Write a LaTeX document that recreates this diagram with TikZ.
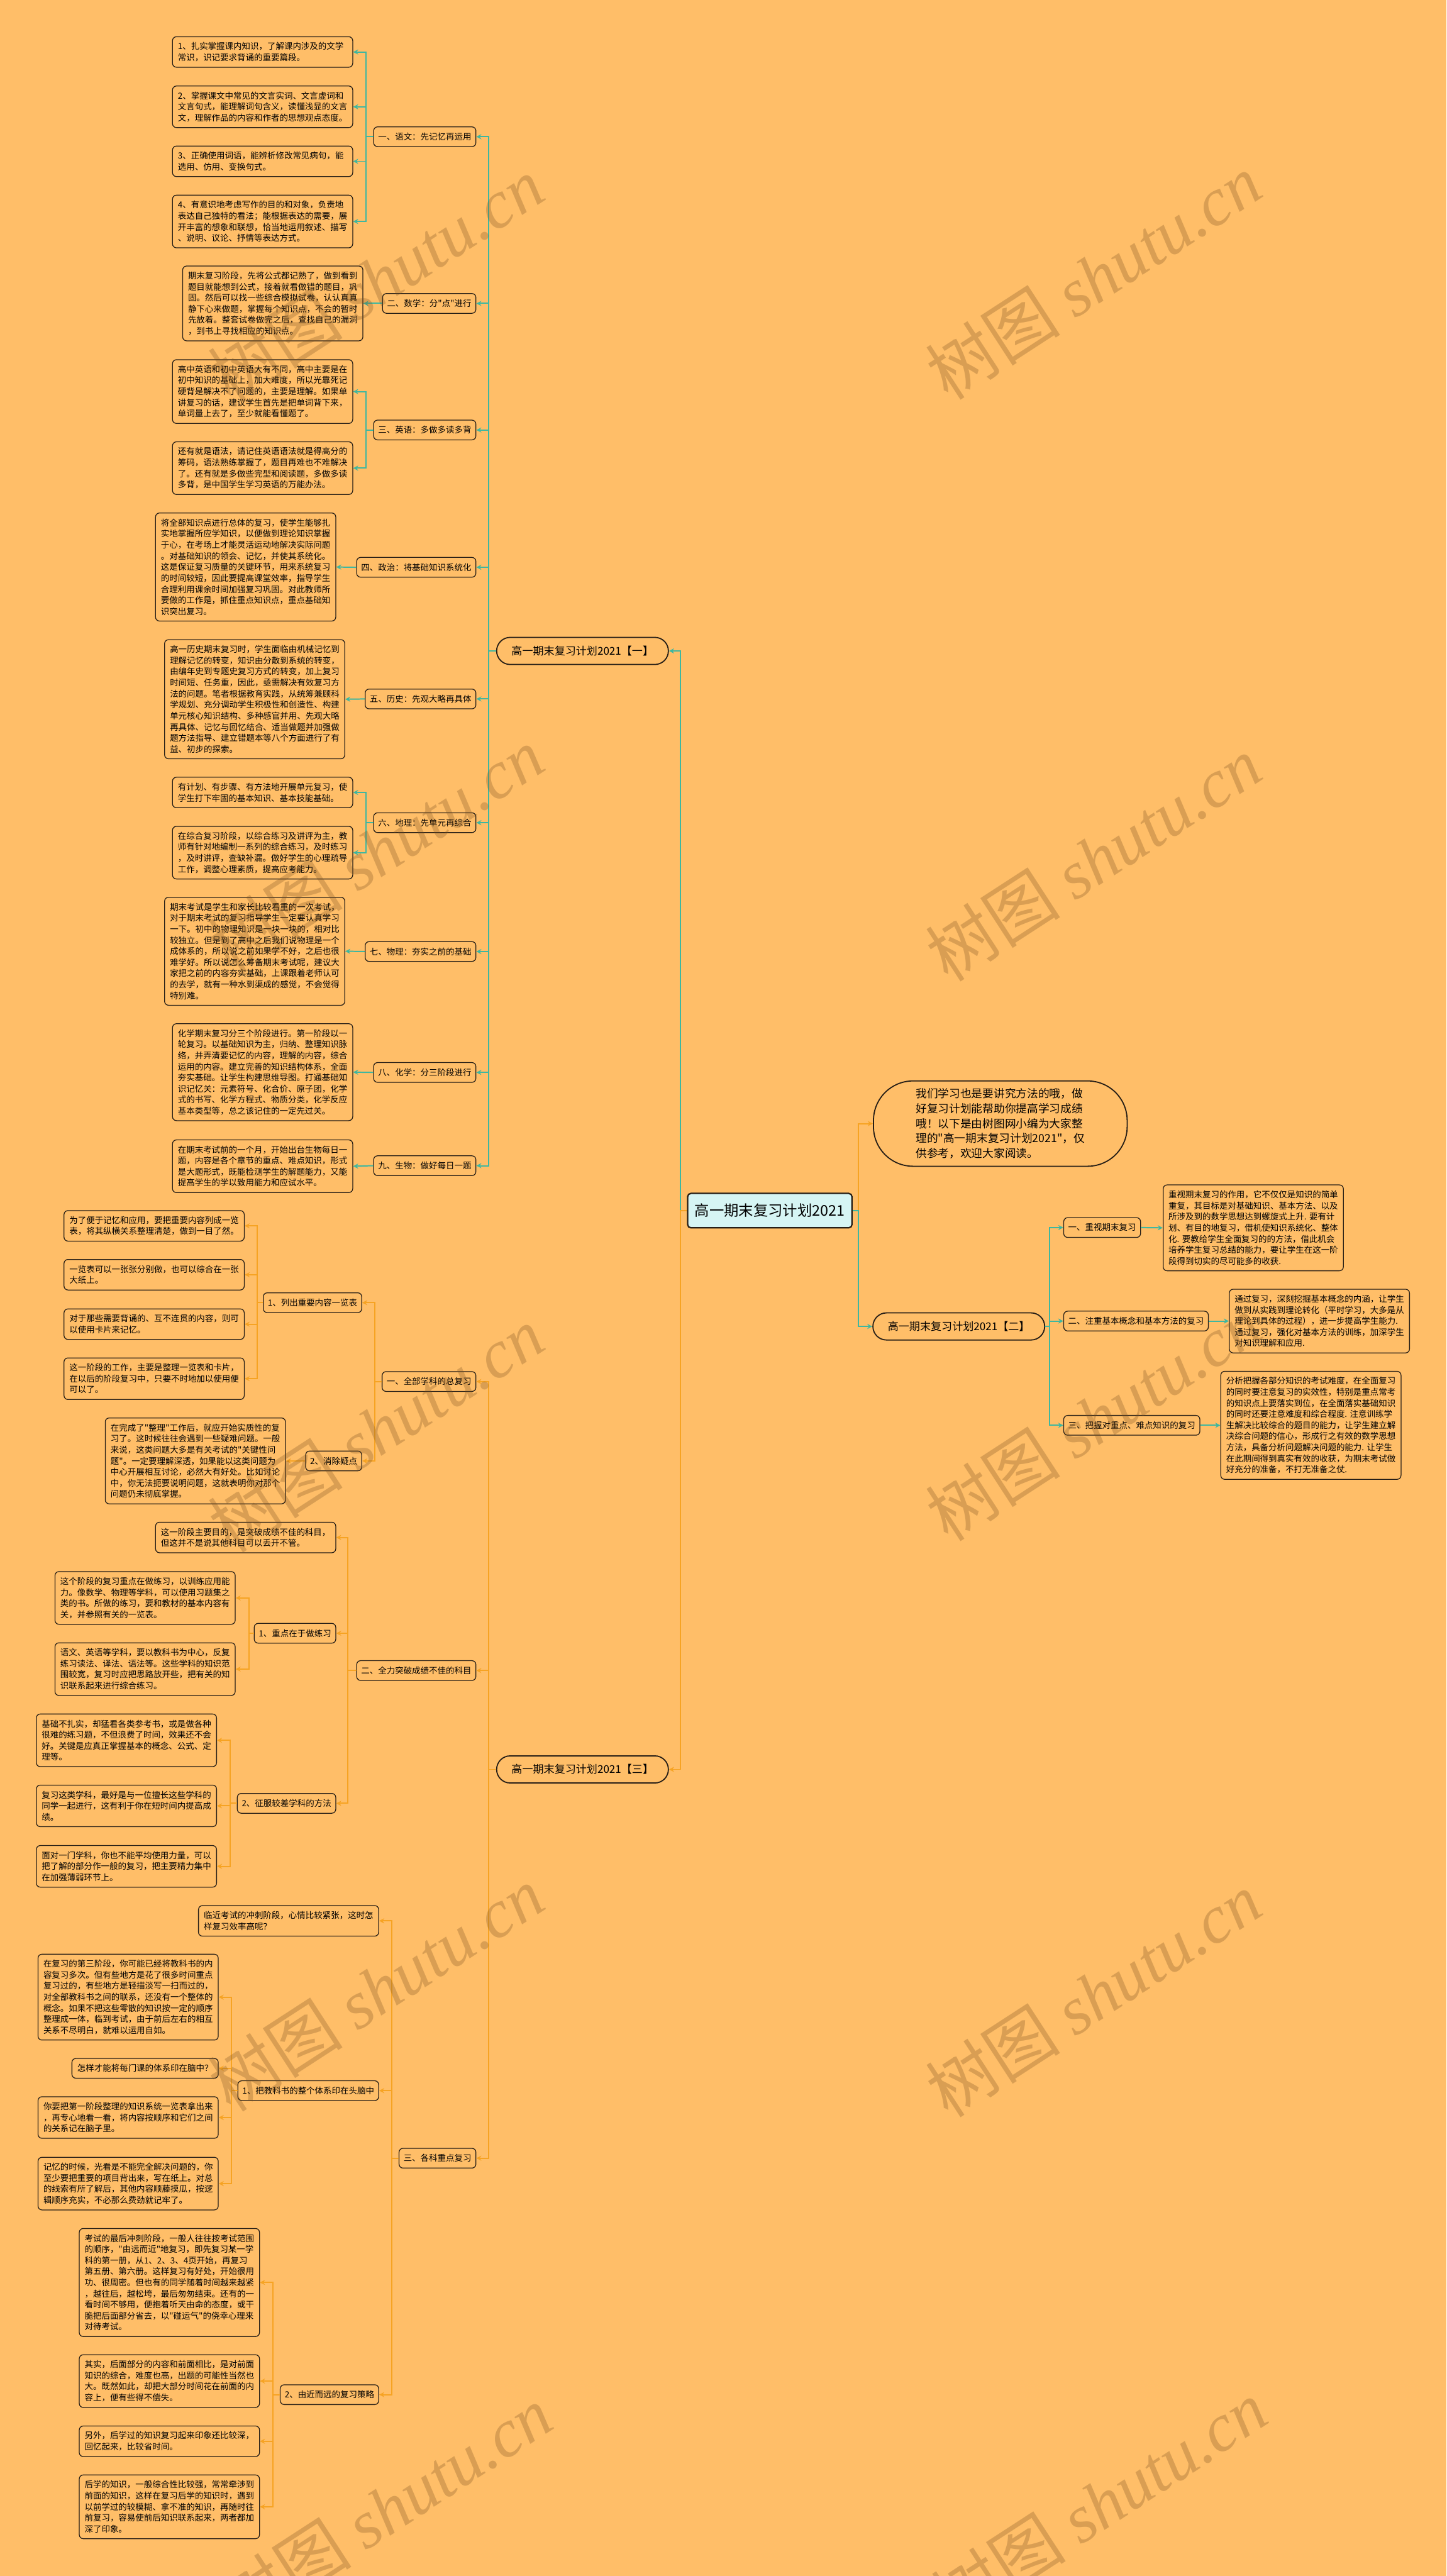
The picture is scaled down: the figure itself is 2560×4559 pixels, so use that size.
\documentclass[tikz,border=0pt]{standalone}
\usepackage{fontspec}
\setmainfont{Noto Sans CJK SC}[Ligatures=TeXOff]
\newfontfamily\wmfont{Liberation Serif}
\usetikzlibrary{arrows.meta}
\definecolor{bg}{RGB}{255,190,104}
\definecolor{bd}{RGB}{38,30,22}
\definecolor{tealc}{RGB}{62,183,160}
\definecolor{orgc}{RGB}{246,163,35}
\definecolor{cyanf}{RGB}{214,245,244}
\definecolor{wmc}{RGB}{120,78,30}
\begin{document}
\begin{tikzpicture}[x=1pt,y=-1pt,
 leafbase/.style={draw=bd, line width=1.4pt, fill=bg, rounded corners=7pt, align=left, font=\fontsize{15}{19.6}\selectfont, inner xsep=9.5pt, inner ysep=3pt},
 leaf/.style={leafbase, text width=300pt},
 lab/.style={draw=bd, line width=1.4pt, fill=bg, rounded corners=7pt, font=\fontsize{15}{18}\selectfont, inner xsep=8pt, inner ysep=3pt, minimum height=35pt},
 ln2/.style={minimum height=54pt}, ln3/.style={minimum height=73.6pt}, ln4/.style={minimum height=93.2pt},
 ln5/.style={minimum height=112.8pt}, ln6/.style={minimum height=132.4pt}, ln7/.style={minimum height=152pt},
 ln8/.style={minimum height=171.6pt}, ln9/.style={minimum height=191.2pt}, ln10/.style={minimum height=210.8pt},
 brbox/.style={draw=bd, line width=2pt, fill=bg, rounded corners=24pt, font=\fontsize{19}{22}\selectfont, minimum width=304pt, minimum height=48pt, inner sep=2pt},
 ctrbox/.style={draw=bd, line width=2.5pt, fill=cyanf, rounded corners=6pt, font=\fontsize{26}{30}\selectfont, minimum width=291pt, minimum height=61pt, inner sep=2pt},
 introbox/.style={draw=bd, line width=2pt, fill=bg, rounded corners=70pt, align=left, font=\fontsize{19.7}{26.5}\selectfont, minimum width=449pt, minimum height=151pt, inner sep=2pt},
 conT/.style={draw=tealc, line width=2.2pt, -{Stealth[length=9pt,width=9pt]}},
 conO/.style={draw=orgc, line width=2.2pt, -{Stealth[length=9pt,width=9pt]}},
 wm/.style={rotate=33, font=\fontsize{120}{120}\selectfont, text=wmc, text opacity=0.28, inner sep=0pt}]
\fill[bg] (0,0) rectangle (2560,4559);
\useasboundingbox (0,0) rectangle (2560,4559);
% vertical connector x positions
\coordinate (vC) at (1204,0);
\coordinate (vR) at (1519,0);
\coordinate (s1) at (865,0);
\coordinate (v1) at (648,0);
\coordinate (s2) at (1858,0);
\coordinate (v31) at (663,0);
\coordinate (v311) at (455,0);
\coordinate (v32) at (616,0);
\coordinate (v321) at (441,0);
\coordinate (v322) at (407,0);
\coordinate (v33) at (693,0);
\coordinate (v331) at (410,0);
\coordinate (v332) at (483,0);
% ---------------- center ----------------
\node[ctrbox] (C) at (1362.5,2142.5) {高一期末复习计划2021};
\node[introbox] (I) at (1770.5,1988.5) {我们学习也是要讲究方法的哦，做\\好复习计划能帮助你提高学习成绩\\哦！以下是由树图网小编为大家整\\理的"高一期末复习计划2021"，仅\\供参考，欢迎大家阅读。};
% ---------------- branch 1 ----------------
\node[brbox,anchor=east] (B1) at (1184,1152) {高一期末复习计划2021【一】};
\node[lab,anchor=east] (A1) at (843,242) {一、语文：先记忆再运用};
\node[leaf,ln2,anchor=east] (a11) at (625,92) {1、扎实掌握课内知识，了解课内涉及的文学\\常识，识记要求背诵的重要篇段。};
\node[leaf,ln3,anchor=east] (a12) at (625,189) {2、掌握课文中常见的文言实词、文言虚词和\\文言句式，能理解词句含义，读懂浅显的文言\\文，理解作品的内容和作者的思想观点态度。};
\node[leaf,ln2,anchor=east] (a13) at (625,285.5) {3、正确使用词语，能辨析修改常见病句，能\\选用、仿用、变换句式。};
\node[leaf,ln4,anchor=east] (a14) at (625,392) {4、有意识地考虑写作的目的和对象，负责地\\表达自己独特的看法；能根据表达的需要，展\\开丰富的想象和联想，恰当地运用叙述、描写\\、说明、议论、抒情等表达方式。};
\node[lab,anchor=east] (A2) at (843,537) {二、数学：分"点"进行};
\node[leaf,ln6,anchor=east] (a2) at (643,537) {期末复习阶段，先将公式都记熟了，做到看到\\题目就能想到公式，接着就看做错的题目，巩\\固。然后可以找一些综合模拟试卷，认认真真\\静下心来做题，掌握每个知识点，不会的暂时\\先放着。整套试卷做完之后，查找自己的漏洞\\，到书上寻找相应的知识点。};
\node[lab,anchor=east] (A3) at (843,761) {三、英语：多做多读多背};
\node[leaf,ln5,anchor=east] (a31) at (625,693) {高中英语和初中英语大有不同，高中主要是在\\初中知识的基础上，加大难度，所以光靠死记\\硬背是解决不了问题的，主要是理解。如果单\\讲复习的话，建议学生首先是把单词背下来，\\单词量上去了，至少就能看懂题了。};
\node[leaf,ln4,anchor=east] (a32) at (625,828.5) {还有就是语法，请记住英语语法就是得高分的\\筹码，语法熟练掌握了，题目再难也不难解决\\了。还有就是多做些完型和阅读题，多做多读\\多背，是中国学生学习英语的万能办法。};
\node[lab,anchor=east] (A4) at (843,1004) {四、政治：将基础知识系统化};
\node[leaf,ln9,anchor=east] (a4) at (595,1003.5) {将全部知识点进行总体的复习，使学生能够扎\\实地掌握所应学知识，以便做到理论知识掌握\\于心，在考场上才能灵活运动地解决实际问题\\。对基础知识的领会、记忆，并使其系统化。\\这是保证复习质量的关键环节，用来系统复习\\的时间较短，因此要提高课堂效率，指导学生\\合理利用课余时间加强复习巩固。对此教师所\\要做的工作是，抓住重点知识点，重点基础知\\识突出复习。};
\node[lab,anchor=east] (A5) at (843,1237) {五、历史：先观大略再具体};
\node[leaf,ln10,anchor=east] (a5) at (611,1237.5) {高一历史期末复习时，学生面临由机械记忆到\\理解记忆的转变，知识由分散到系统的转变，\\由编年史到专题史复习方式的转变，加上复习\\时间短、任务重，因此，亟需解决有效复习方\\法的问题。笔者根据教育实践，从统筹兼顾科\\学规划、充分调动学生积极性和创造性、构建\\单元核心知识结构、多种感官并用、先观大略\\再具体、记忆与回忆结合、适当做题并加强做\\题方法指导、建立错题本等八个方面进行了有\\益、初步的探索。};
\node[lab,anchor=east] (A6) at (843,1456) {六、地理：先单元再综合};
\node[leaf,ln2,anchor=east] (a61) at (625,1402.5) {有计划、有步骤、有方法地开展单元复习，使\\学生打下牢固的基本知识、基本技能基础。};
\node[leaf,ln4,anchor=east] (a62) at (625,1509) {在综合复习阶段，以综合练习及讲评为主，教\\师有针对地编制一系列的综合练习，及时练习\\，及时讲评，查缺补漏。做好学生的心理疏导\\工作，调整心理素质，提高应考能力。};
\node[lab,anchor=east] (A7) at (843,1684) {七、物理：夯实之前的基础};
\node[leaf,ln9,anchor=east] (a7) at (611,1683.5) {期末考试是学生和家长比较看重的一次考试，\\对于期末考试的复习指导学生一定要认真学习\\一下。初中的物理知识是一块一块的，相对比\\较独立。但是到了高中之后我们说物理是一个\\成体系的，所以说之前如果学不好，之后也很\\难学好。所以说怎么筹备期末考试呢，建议大\\家把之前的内容夯实基础，上课跟着老师认可\\的去学，就有一种水到渠成的感觉，不会觉得\\特别难。};
\node[lab,anchor=east] (A8) at (843,1898) {八、化学：分三阶段进行};
\node[leaf,ln8,anchor=east] (a8) at (625,1897.5) {化学期末复习分三个阶段进行。第一阶段以一\\轮复习。以基础知识为主，归纳、整理知识脉\\络，并弄清要记忆的内容，理解的内容，综合\\运用的内容。建立完善的知识结构体系，全面\\夯实基础。让学生构建思维导图。打通基础知\\识记忆关：元素符号、化合价、原子团，化学\\式的书写、化学方程式、物质分类，化学反应\\基本类型等，总之该记住的一定先过关。};
\node[lab,anchor=east] (A9) at (843,2063) {九、生物：做好每日一题};
\node[leaf,ln4,anchor=east] (a9) at (625,2064) {在期末考试前的一个月，开始出台生物每日一\\题，内容是各个章节的重点、难点知识，形式\\是大题形式，既能检测学生的解题能力，又能\\提高学生的学以致用能力和应试水平。};
% ---------------- branch 2 ----------------
\node[brbox,anchor=west] (B2) at (1544,2347.5) {高一期末复习计划2021【二】};
\node[lab,anchor=west] (R1) at (1882,2172.5) {一、重视期末复习};
\node[leaf,ln7,anchor=west] (r1) at (2058,2173) {重视期末复习的作用，它不仅仅是知识的简单\\重复，其目标是对基础知识、基本方法、以及\\所涉及到的数学思想达到螺旋式上升.~要有计\\划、有目的地复习，借机使知识系统化、整体\\化.~要教给学生全面复习的的方法，借此机会\\培养学生复习总结的能力，要让学生在这一阶\\段得到切实的尽可能多的收获.};
\node[lab,anchor=west] (R2) at (1882,2338) {二、注重基本概念和基本方法的复习};
\node[leaf,ln5,anchor=west] (r2) at (2175,2338) {通过复习，深刻挖掘基本概念的内涵，让学生\\做到从实践到理论转化（平时学习，大多是从\\理论到具体的过程），进一步提高学生能力.\\通过复习，强化对基本方法的训练，加深学生\\对知识理解和应用.};
\node[lab,anchor=west] (R3) at (1882,2522.5) {三、把握对重点、难点知识的复习};
\node[leaf,ln9,anchor=west] (r3) at (2160,2522.5) {分析把握各部分知识的考试难度，在全面复习\\的同时要注意复习的实效性，特别是重点常考\\的知识点上要落实到位，在全面落实基础知识\\的同时还要注意难度和综合程度.~注意训练学\\生解决比较综合的题目的能力，让学生建立解\\决综合问题的信心，形成行之有效的数学思想\\方法，具备分析问题解决问题的能力.~让学生\\在此期间得到真实有效的收获，为期末考试做\\好充分的准备，不打无准备之仗.};
% ---------------- branch 3 ----------------
\node[brbox,anchor=east] (B3) at (1184,3131.5) {高一期末复习计划2021【三】};
\node[lab,anchor=east] (M1) at (843,2445) {一、全部学科的总复习};
\node[lab,anchor=east] (M11) at (641,2305.5) {1、列出重要内容一览表};
\node[leaf,ln2,anchor=east] (m111) at (433,2169.5) {为了便于记忆和应用，要把重要内容列成一览\\表，将其纵横关系整理清楚，做到一目了然。};
\node[leaf,ln2,anchor=east] (m112) at (433,2256) {一览表可以一张张分别做，也可以综合在一张\\大纸上。};
\node[leaf,ln2,anchor=east] (m113) at (433,2343.5) {对于那些需要背诵的、互不连贯的内容，则可\\以使用卡片来记忆。};
\node[leaf,ln3,anchor=east] (m114) at (433,2440) {这一阶段的工作，主要是整理一览表和卡片，\\在以后的阶段复习中，只要不时地加以使用便\\可以了。};
\node[lab,anchor=east] (M12) at (641,2585.5) {2、消除疑点};
\node[leaf,ln7,anchor=east] (m121) at (506,2585.5) {在完成了"整理"工作后，就应开始实质性的复\\习了。这时候往往会遇到一些疑难问题。一般\\来说，这类问题大多是有关考试的"关键性问\\题"。一定要理解深透，如果能以这类问题为\\中心开展相互讨论，必然大有好处。比如讨论\\中，你无法扼要说明问题，这就表明你对那个\\问题仍未彻底掌握。};
\node[lab,anchor=east] (M2) at (843,2956.5) {二、全力突破成绩不佳的科目};
\node[leaf,ln2,anchor=east] (m20) at (595,2721) {这一阶段主要目的，是突破成绩不佳的科目，\\但这并不是说其他科目可以丢开不管。};
\node[lab,anchor=east] (M21) at (595,2890.5) {1、重点在于做练习};
\node[leaf,ln4,anchor=east] (m211) at (417,2828) {这个阶段的复习重点在做练习，以训练应用能\\力。像数学、物理等学科，可以使用习题集之\\类的书。所做的练习，要和教材的基本内容有\\关，并参照有关的一览表。};
\node[leaf,ln4,anchor=east] (m212) at (417,2954) {语文、英语等学科，要以教科书为中心，反复\\练习读法、译法、语法等。这些学科的知识范\\围较宽，复习时应把思路放开些，把有关的知\\识联系起来进行综合练习。};
\node[lab,anchor=east] (M22) at (595,3191.5) {2、征服较差学科的方法};
\node[leaf,ln4,anchor=east] (m221) at (384,3080) {基础不扎实，却猛看各类参考书，或是做各种\\很难的练习题，不但浪费了时间，效果还不会\\好。关键是应真正掌握基本的概念、公式、定\\理等。};
\node[leaf,ln3,anchor=east] (m222) at (384,3196) {复习这类学科，最好是与一位擅长这些学科的\\同学一起进行，这有利于你在短时间内提高成\\绩。};
\node[leaf,ln3,anchor=east] (m223) at (384,3303) {面对一门学科，你也不能平均使用力量，可以\\把了解的部分作一般的复习，把主要精力集中\\在加强薄弱环节上。};
\node[lab,anchor=east] (M3) at (843,3819.5) {三、各科重点复习};
\node[leaf,ln2,anchor=east] (m30) at (671,3399.5) {临近考试的冲刺阶段，心情比较紧张，这时怎\\样复习效率高呢？};
\node[lab,anchor=east] (M31) at (671,3700) {1、把教科书的整个体系印在头脑中};
\node[leaf,ln7,anchor=east] (m311) at (387,3534.5) {在复习的第三阶段，你可能已经将教科书的内\\容复习多次。但有些地方是花了很多时间重点\\复习过的，有些地方是轻描淡写一扫而过的，\\对全部教科书之间的联系，还没有一个整体的\\概念。如果不把这些零散的知识按一定的顺序\\整理成一体，临到考试，由于前后左右的相互\\关系不尽明白，就难以运用自如。};
\node[leafbase,minimum height=35pt,anchor=east] (m312) at (387,3660.5) {怎样才能将每门课的体系印在脑中？};
\node[leaf,ln3,anchor=east] (m313) at (387,3747.5) {你要把第一阶段整理的知识系统一览表拿出来\\，再专心地看一看，将内容按顺序和它们之间\\的关系记在脑子里。};
\node[leaf,ln4,anchor=east] (m314) at (387,3864.5) {记忆的时候，光看是不能完全解决问题的，你\\至少要把重要的项目背出来，写在纸上。对总\\的线索有所了解后，其他内容顺藤摸瓜，按逻\\辑顺序充实，不必那么费劲就记牢了。};
\node[lab,anchor=east] (M32) at (671,4238) {2、由近而远的复习策略};
\node[leaf,ln9,anchor=east] (m321) at (460,4039.5) {考试的最后冲刺阶段，一般人往往按考试范围\\的顺序，"由远而近"地复习，即先复习某一学\\科的第一册，从1、2、3、4页开始，再复习\\第五册、第六册。这样复习有好处，开始很用\\功、很周密。但也有的同学随着时间越来越紧\\，越往后，越松垮，最后匆匆结束。还有的一\\看时间不够用，便抱着听天由命的态度，或干\\脆把后面部分省去，以"碰运气"的侥幸心理来\\对待考试。};
\node[leaf,ln4,anchor=east] (m322) at (460,4214) {其实，后面部分的内容和前面相比，是对前面\\知识的综合，难度也高，出题的可能性当然也\\大。既然如此，却把大部分时间花在前面的内\\容上，便有些得不偿失。};
\node[leaf,ln2,anchor=east] (m323) at (460,4320.5) {另外，后学过的知识复习起来印象还比较深，\\回忆起来，比较省时间。};
\node[leaf,ln5,anchor=east] (m324) at (460,4436.5) {后学的知识，一般综合性比较强，常常牵涉到\\前面的知识，这样在复习后学的知识时，遇到\\以前学过的较模糊、拿不准的知识，再随时往\\前复习，容易使前后知识联系起来，两者都加\\深了印象。};
% ---------------- connectors ----------------
\draw[conT] (C.west) -- (C.west -| vC) |- (B1.east);
\draw[conO] (C.west) -- (C.west -| vC) |- (B3.east);
\draw[conO] (C.east) -- (C.east -| vR) |- (I.west);
\draw[conT] (C.east) -- (C.east -| vR) |- (B2.west);
\foreach \n in {A1,A2,A3,A4,A5,A6,A7,A8,A9} \draw[conT] (B1.west) -- (B1.west -| s1) |- (\n.east);
\foreach \n in {a11,a12,a13,a14} \draw[conT] (A1.west) -- (A1.west -| v1) |- (\n.east);
\foreach \n in {a31,a32} \draw[conT] (A3.west) -- (A3.west -| v1) |- (\n.east);
\foreach \n in {a61,a62} \draw[conT] (A6.west) -- (A6.west -| v1) |- (\n.east);
\draw[conT] (A2.west) -- (a2.east);
\draw[conT] (A4.west) -- (a4.east);
\draw[conT] (A5.west) -- (a5.east);
\draw[conT] (A7.west) -- (a7.east);
\draw[conT] (A8.west) -- (a8.east);
\draw[conT] (A9.west) -- (a9.east);
\foreach \n in {R1,R2,R3} \draw[conT] (B2.east) -- (B2.east -| s2) |- (\n.west);
\draw[conT] (R1.east) -- (r1.west);
\draw[conT] (R2.east) -- (r2.west);
\draw[conT] (R3.east) -- (r3.west);
\foreach \n in {M1,M2,M3} \draw[conO] (B3.west) -- (B3.west -| s1) |- (\n.east);
\foreach \n in {M11,M12} \draw[conO] (M1.west) -- (M1.west -| v31) |- (\n.east);
\foreach \n in {m111,m112,m113,m114} \draw[conO] (M11.west) -- (M11.west -| v311) |- (\n.east);
\draw[conO] (M12.west) -- (m121.east);
\foreach \n in {m20,M21,M22} \draw[conO] (M2.west) -- (M2.west -| v32) |- (\n.east);
\foreach \n in {m211,m212} \draw[conO] (M21.west) -- (M21.west -| v321) |- (\n.east);
\foreach \n in {m221,m222,m223} \draw[conO] (M22.west) -- (M22.west -| v322) |- (\n.east);
\foreach \n in {m30,M31,M32} \draw[conO] (M3.west) -- (M3.west -| v33) |- (\n.east);
\foreach \n in {m311,m312,m313,m314} \draw[conO] (M31.west) -- (M31.west -| v331) |- (\n.east);
\foreach \n in {m321,m322,m323,m324} \draw[conO] (M32.west) -- (M32.west -| v332) |- (\n.east);
% ---------------- watermarks ----------------
\foreach \wx/\wy [count=\k] in {665/495,1935/490,665/1505,1935/1520,665/2530,1935/2510,665/3520,1935/3530,680/4440,1945/4430}
  \node[wm] (w\k) at (\wx,\wy) {树图 {\wmfont\itshape shutu.cn}};
\end{tikzpicture}
\end{document}
